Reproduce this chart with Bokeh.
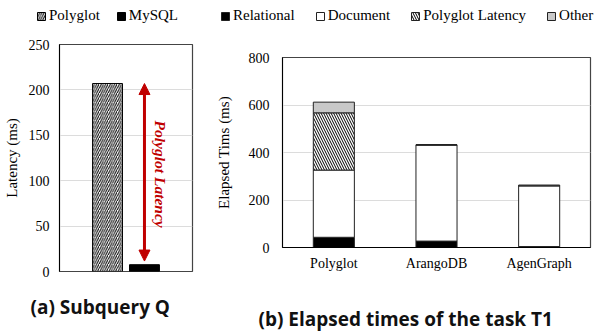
import math
from bokeh.plotting import figure
from bokeh.layouts import row, column
from bokeh.models import (Range1d, FactorRange, Arrow, NormalHead, Label, Legend,
                          LegendItem, ColumnDataSource, FixedTicker)
from bokeh.embed import file_html
from bokeh.resources import INLINE

# ---------------- data ----------------
# Panel (a): Subquery Q
a_systems = ["Polyglot", "MySQL"]
a_latency = [207, 7.5]
a_yticks = [0, 50, 100, 150, 200, 250]

# Panel (b): Elapsed times of the task T1
b_systems = ["Polyglot", "ArangoDB", "AgenGraph"]
b_parts = ["Relational", "Document", "Polyglot Latency", "Other"]
b_relational = [43, 27, 4]
b_document = [283, 405, 256]
b_polyglot_latency = [241, 0, 0]
b_other = [45, 0, 3]
b_yticks = [0, 200, 400, 600, 800]

SERIF = "Liberation Serif"
TFONT = "Open Sans"
RED = "#c00000"
GRID = "#dcdcdc"
OUT = "#444444"
H = 332
LEG_H = 30

# styles shared by bars and their legend keys
a_styles = [dict(fill_color="white", line_color="black", line_width=1, hatch_pattern="/",
                 hatch_color="black", hatch_scale=4.5, hatch_weight=1),
            dict(fill_color="black", line_color="black", line_width=1)]
b_fill = ["black", "white", "white", "#c8c8c8"]
b_hatch = [" ", " ", "\\", " "]


def blank_fig(width, height):
    f = figure(width=width, height=height, output_backend="svg", toolbar_location=None,
               x_axis_location=None, y_axis_location=None, min_border=0,
               x_range=Range1d(0, width), y_range=Range1d(0, height))
    f.outline_line_color = None
    f.grid.grid_line_color = None
    return f


def legend_fig(width, styles, labels, loc, spacing):
    f = blank_fig(width, LEG_H)
    items = []
    for st, lab in zip(styles, labels):
        # legend key only: kept outside the visible range of this strip
        r = f.vbar(x=[-50], top=[-50], width=1, **st)
        items.append(LegendItem(label=lab, renderers=[r]))
    f.add_layout(Legend(items=items, orientation="horizontal", location=loc,
                        glyph_width=10, glyph_height=10, label_standoff=3, spacing=spacing,
                        padding=2, margin=0, label_text_font=SERIF,
                        label_text_font_size="15px", label_text_color="black",
                        background_fill_alpha=0, border_line_color=None, label_height=12))
    return f


def caption_fig(width, height, text, x, y, size):
    f = blank_fig(width, height)
    f.add_layout(Label(x=x, y=y, text=text, text_align="left", text_baseline="middle",
                       text_font=TFONT, text_font_size=size, text_font_style="bold",
                       text_color="#111111"))
    return f


def style_axis(ax):
    ax.axis_line_color = "black"
    ax.major_tick_out = 0
    ax.major_tick_in = 0
    ax.minor_tick_line_color = None
    ax.major_label_text_font = SERIF
    ax.major_label_text_font_size = "14px"
    ax.major_label_text_color = "black"
    ax.axis_label_text_font = SERIF
    ax.axis_label_text_font_size = "15px"
    ax.axis_label_text_font_style = "normal"
    ax.axis_label_text_color = "black"


# ---------------- panel (a) ----------------
CAP_A = 50
p1 = figure(width=200, height=H - LEG_H - CAP_A, output_backend="svg", toolbar_location=None,
            x_range=Range1d(-1.3, len(a_systems) - 1 + 1.3), y_range=Range1d(0, 250),
            min_border_left=59, min_border_right=8, min_border_top=44 - LEG_H,
            min_border_bottom=11)
p1.outline_line_color = OUT
p1.outline_line_width = 1.2
p1.xaxis.visible = False
p1.xgrid.grid_line_color = None
p1.ygrid.grid_line_color = GRID
p1.yaxis.ticker = FixedTicker(ticks=a_yticks)
style_axis(p1.yaxis)
p1.yaxis.major_label_standoff = 10
p1.yaxis.axis_label = "Latency (ms)"
p1.yaxis.axis_label_standoff = 6

for i, (v, st) in enumerate(zip(a_latency, a_styles)):
    p1.vbar(x=[i], top=[v], width=0.81, **st)

head = dict(size=11, fill_color=RED, line_color=RED)
p1.add_layout(Arrow(x_start=1, y_start=a_latency[0], x_end=1, y_end=a_latency[1] + 4,
                    start=NormalHead(**head), end=NormalHead(**head),
                    line_color=RED, line_width=3))
p1.add_layout(Label(x=1.43, y=(a_latency[0] + a_latency[1]) / 2, text="Polyglot Latency",
                    angle=-math.pi / 2, text_align="center", text_baseline="middle",
                    text_font=SERIF, text_font_size="15.5px", text_font_style="bold italic",
                    text_color=RED))

# ---------------- panel (b) ----------------
CAP_B = 40
src_b = ColumnDataSource(dict(system=b_systems, Relational=b_relational, Document=b_document,
                              PL=b_polyglot_latency, Other=b_other))
p2 = figure(width=395, height=H - LEG_H - CAP_B, output_backend="svg", toolbar_location=None,
            x_range=FactorRange(*b_systems, range_padding=0), y_range=Range1d(0, 800),
            min_border_left=82, min_border_right=5, min_border_top=57 - LEG_H,
            min_border_bottom=45)
p2.outline_line_color = OUT
p2.outline_line_width = 1.2
p2.xgrid.grid_line_color = None
p2.ygrid.grid_line_color = GRID
p2.yaxis.ticker = FixedTicker(ticks=b_yticks)
style_axis(p2.xaxis)
style_axis(p2.yaxis)
p2.xaxis.major_label_standoff = 8
p2.yaxis.major_label_standoff = 13
p2.yaxis.axis_label = "Elapsed Tims (ms)"
p2.yaxis.axis_label_standoff = 14

p2.vbar_stack(["Relational", "Document", "PL", "Other"], x="system", width=0.4,
              source=src_b, fill_color=b_fill, line_color="#222222", line_width=1,
              hatch_pattern=b_hatch, hatch_color="black", hatch_scale=5, hatch_weight=1)

b_styles = [dict(fill_color=f, line_color="#222222", line_width=1, hatch_pattern=h,
                 hatch_color="black", hatch_scale=5, hatch_weight=1)
            for f, h in zip(b_fill, b_hatch)]
l1 = legend_fig(200, a_styles, a_systems, (36, 6), 16)
l2 = legend_fig(395, b_styles, b_parts, (20, 6), 20)
c1 = caption_fig(200, CAP_A, "(a) Subquery Q", 30, CAP_A - 24, "19px")
c2 = caption_fig(395, CAP_B, "(b) Elapsed times of the task T1", 58, 13.5, "19px")

layout = row(column(row(l1), row(p1), row(c1)), column(row(l2), row(p2), row(c2)))
open("out.html", "w").write(file_html(layout, INLINE))
